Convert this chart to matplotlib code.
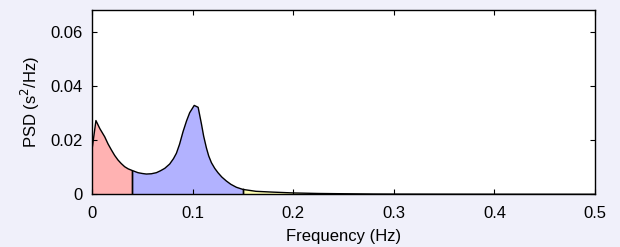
import matplotlib
matplotlib.use("Agg")
import matplotlib.pyplot as plt
import numpy as np

# Hand-read PSD curve (frequency in Hz, PSD in s^2/Hz)
freq = [0.0, 0.0039, 0.0078, 0.0126, 0.0160, 0.0193, 0.0225, 0.0258, 0.0290, 0.0325,
        0.0360, 0.0400, 0.0457, 0.0500, 0.0540, 0.0590, 0.0640, 0.0680, 0.0723, 0.0772,
        0.0810, 0.0839, 0.0870, 0.0905, 0.0940, 0.0971, 0.1016, 0.1055, 0.1087, 0.1110,
        0.1137, 0.1160, 0.1187, 0.1220, 0.1252, 0.1290, 0.1336, 0.1380, 0.1435, 0.1500,
        0.1630, 0.1800, 0.2000, 0.2250, 0.2500, 0.2800, 0.3000, 0.3500, 0.4000, 0.4500, 0.5000]
psd = [0.0165, 0.0273, 0.0243, 0.0213, 0.0186, 0.0164, 0.0144, 0.0127, 0.0114, 0.0102,
       0.0094, 0.0088, 0.0080, 0.0077, 0.0075, 0.0076, 0.0080, 0.0087, 0.0096, 0.0112,
       0.0132, 0.0152, 0.0185, 0.0232, 0.0272, 0.0302, 0.0329, 0.0322, 0.0262, 0.0215,
       0.0172, 0.0142, 0.0117, 0.0096, 0.0080, 0.0064, 0.0049, 0.0037, 0.0026, 0.0018,
       0.0011, 0.0008, 0.0005, 0.0003, 0.0002, 0.0001, 0.00007, 0.00004, 0.00002, 0.00001, 0.0]

bands = [(0.0, 0.04), (0.04, 0.15), (0.15, 0.4)]
band_colors = ["#ffb2b2", "#b2b2ff", "#ffffb2"]

xticks = [0, 0.1, 0.2, 0.3, 0.4, 0.5]
xticklabels = ["0", "0.1", "0.2", "0.3", "0.4", "0.5"]
yticks = [0, 0.02, 0.04, 0.06]
yticklabels = ["0", "0.02", "0.04", "0.06"]

plt.rcParams['font.family'] = ['Liberation Sans', 'DejaVu Sans']
FS = 12
plt.rcParams['font.size'] = FS

fig = plt.figure(figsize=(6.2, 2.47), dpi=100, facecolor="#f0f0fa")
ax = fig.add_axes([0.1484, 0.2134, 0.8113, 0.7481])
ax.set_facecolor("white")

f = np.array(freq)
p = np.array(psd)
for (lo, hi), c in zip(bands, band_colors):
    m = (f >= lo) & (f <= hi)
    ax.fill_between(f[m], 0, p[m], facecolor=c, edgecolor="none", zorder=1)
    idx = np.where(m)[0]
    for i in (idx[0], idx[-1]):
        if 0 < f[i] < 0.4:
            ax.plot([f[i], f[i]], [0, p[i]], color="black", lw=1, zorder=2)

ax.plot(f, p, color="black", lw=1, zorder=3)

ax.set_xlim(0, 0.5)
ax.set_ylim(0, 0.0684)
ax.set_xticks(xticks)
ax.set_xticklabels(xticklabels)
ax.set_yticks(yticks)
ax.set_yticklabels(yticklabels)
ax.tick_params(direction="in", top=True, right=True, length=3.5, width=0.8,
               colors="black", labelsize=FS)
ax.tick_params(axis="x", pad=8.5)
ax.tick_params(axis="y", pad=6.5)
for s in ax.spines.values():
    s.set_linewidth(1.0)
    s.set_zorder(5)
ax.set_xlabel("Frequency (Hz)", fontsize=FS, labelpad=6)
ax.set_ylabel("PSD (s$^2$/Hz)", fontsize=FS, labelpad=6)

fig.savefig("out.png", dpi=100, facecolor=fig.get_facecolor())
